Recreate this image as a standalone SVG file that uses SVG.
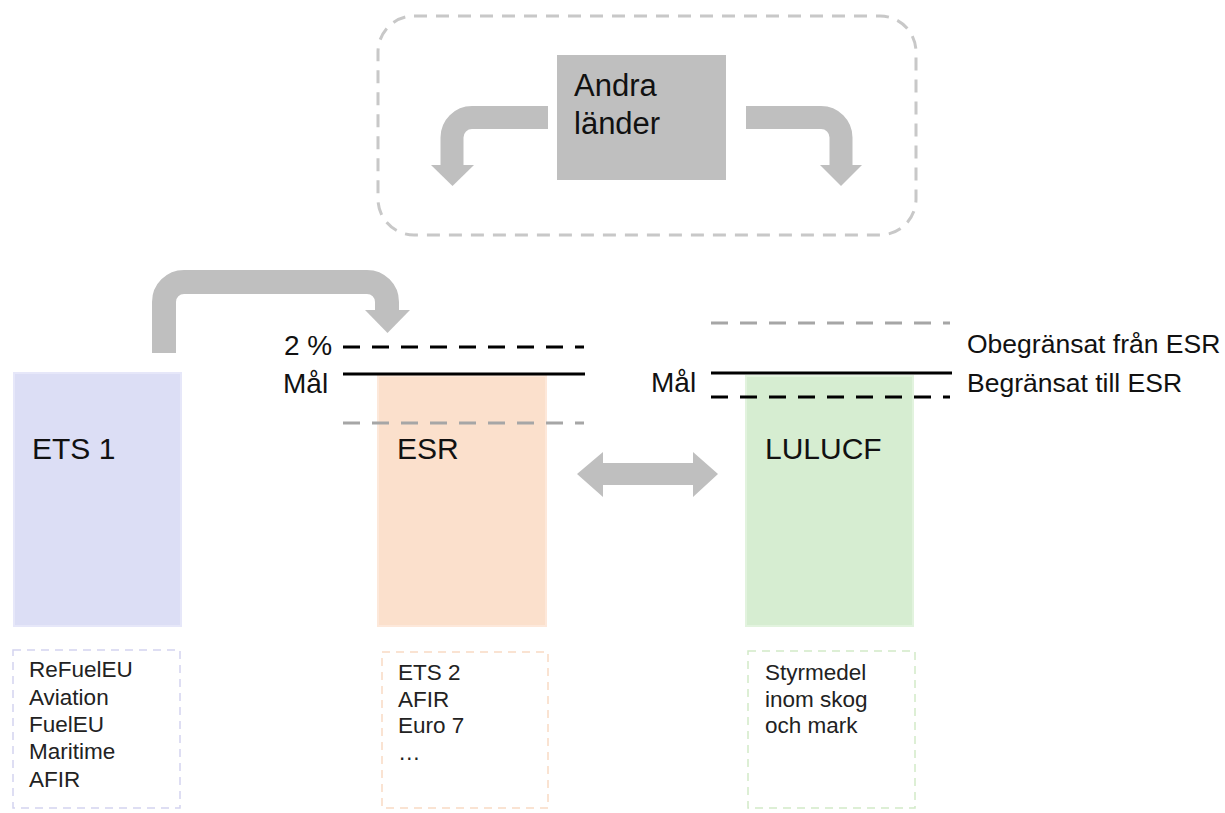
<svg xmlns="http://www.w3.org/2000/svg" width="1225" height="813" viewBox="0 0 1225 813">
<style>
  .t { font-family: "Liberation Sans", Arial, sans-serif; fill: #111; }
  .big { font-size: 30px; }
  .mid { font-size: 28px; }
  .rt { font-size: 26.5px; }
  .lst { font-size: 22.5px; fill: #222; }
  .band { fill: none; stroke: #bfbfbf; stroke-width: 23; }
  .head { fill: #bfbfbf; }
  .solid { stroke: #000; stroke-width: 3; }
  .bdash { stroke: #000; stroke-width: 3; stroke-dasharray: 17 12; }
  .gdash { stroke: #a6a6a6; stroke-width: 3; stroke-dasharray: 17 12; }
  .lbox { fill: #fff; stroke-width: 1.5; stroke-dasharray: 8 6; }
</style>
<rect width="1225" height="813" fill="#fff"/>

<g id="andra-lander-group">
  <rect x="378" y="16" width="538" height="219" rx="36" ry="36" fill="none" stroke="#c8c8c8" stroke-width="3" stroke-dasharray="13 9"/>
</g>

<g id="andra-lander">
  <rect x="557" y="55" width="169" height="125" fill="#bfbfbf"/>
  <text class="t big" x="574" y="96" style="font-size:31px">Andra</text>
  <text class="t big" x="574" y="134" style="font-size:31px">länder</text>
</g>

<g id="ets1">
  <rect x="14" y="373" width="167" height="253" fill="#dcdef5" stroke="#e6e7f9" stroke-width="2"/>
  <text class="t big" x="32" y="459">ETS 1</text>
</g>

<g id="esr">
  <rect x="378" y="376" width="168" height="250" fill="#fbe0cc" stroke="#fde8da" stroke-width="2"/>
  <text class="t big" x="397" y="459">ESR</text>
</g>

<g id="lulucf">
  <rect x="746" y="376" width="167" height="250" fill="#d6edd1" stroke="#e2f3de" stroke-width="2"/>
  <text class="t big" x="765" y="459">LULUCF</text>
</g>

<g id="esr-levels">
  <line class="bdash" x1="343" y1="347" x2="584" y2="347"/>
  <line class="solid" x1="343" y1="374" x2="585" y2="374"/>
  <line class="gdash" x1="343" y1="423" x2="584" y2="423"/>
  <text class="t mid" x="284" y="355">2 %</text>
  <text class="t mid" x="283" y="393">Mål</text>
</g>

<g id="lulucf-levels">
  <line class="gdash" x1="711" y1="323" x2="950" y2="323"/>
  <line class="solid" x1="711" y1="373" x2="952" y2="373"/>
  <line class="bdash" x1="711" y1="397" x2="950" y2="397"/>
  <text class="t mid" x="651" y="392">Mål</text>
  <text class="t rt" x="967" y="353">Obegränsat från ESR</text>
  <text class="t rt" x="967" y="392">Begränsat till ESR</text>
</g>

<g id="ets1-list">
  <rect class="lbox" x="13" y="650" width="167" height="158" stroke="#d4d4f0"/>
  <text class="t lst" x="29" y="677">ReFuelEU</text>
  <text class="t lst" x="29" y="705">Aviation</text>
  <text class="t lst" x="29" y="732">FuelEU</text>
  <text class="t lst" x="29" y="759">Maritime</text>
  <text class="t lst" x="29" y="787">AFIR</text>
</g>

<g id="esr-list">
  <rect class="lbox" x="382" y="652" width="166" height="156" stroke="#f9dac4"/>
  <text class="t lst" x="398" y="680">ETS 2</text>
  <text class="t lst" x="398" y="707">AFIR</text>
  <text class="t lst" x="398" y="733">Euro 7</text>
  <text class="t lst" x="398" y="760">…</text>
</g>

<g id="lulucf-list">
  <rect class="lbox" x="748" y="651" width="167" height="157" stroke="#d2eac8"/>
  <text class="t lst" x="765" y="680">Styrmedel</text>
  <text class="t lst" x="765" y="707">inom skog</text>
  <text class="t lst" x="765" y="733">och mark</text>
</g>

<g id="connectors">
  <path class="band" d="M548,117.5 H472 A20,20 0 0 0 452,137.5 V166"/>
  <polygon class="head" points="431,165 474,165 452.5,186"/>
  <path class="band" d="M746,117.5 H821 A20,20 0 0 1 841,137.5 V166"/>
  <polygon class="head" points="820,165 862,165 841,186"/>
  <path class="band" d="M164,353 V302 A20,20 0 0 1 184,282 H367 A20,20 0 0 1 387,302 V311" style="stroke-width:24"/>
  <polygon class="head" points="365,310 410,310 387.5,333"/>
  <polygon class="head" points="577,474 603,452 603,463 693,463 693,452 718,474 693,497 693,485 603,485 603,497"/>
</g>
</svg>
